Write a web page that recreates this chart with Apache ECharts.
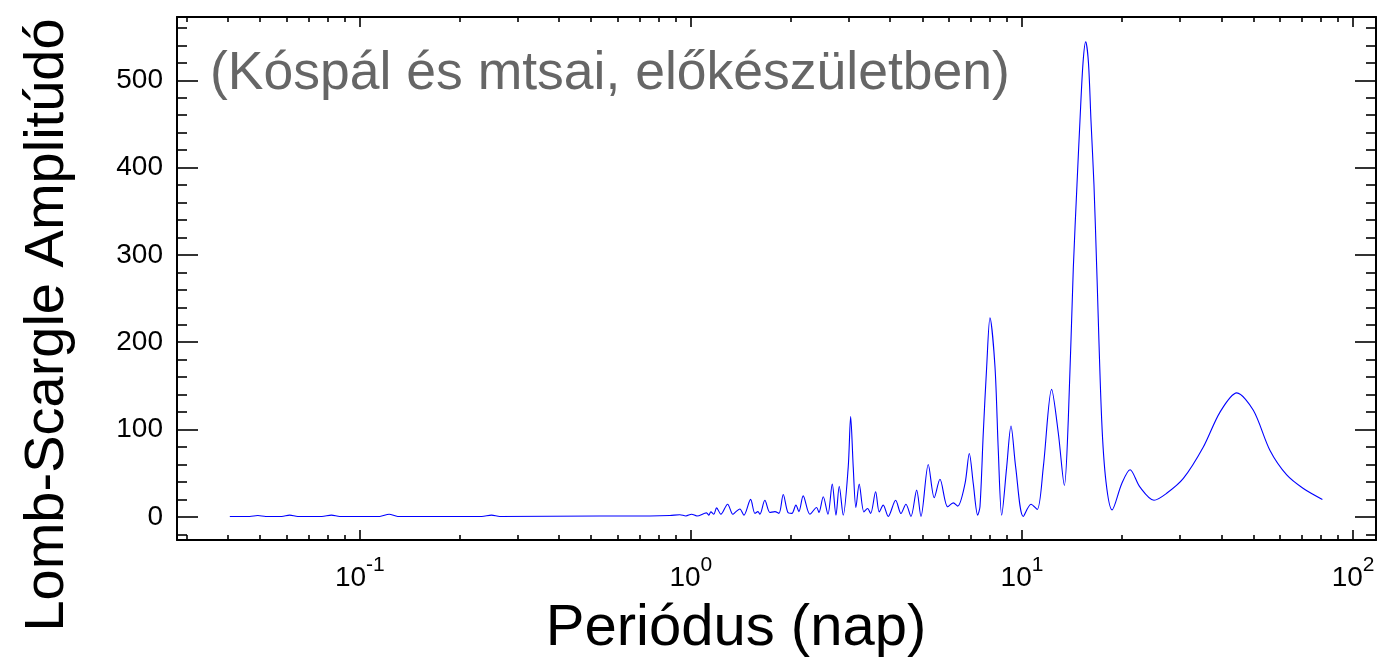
<!DOCTYPE html>
<html>
<head>
<meta charset="utf-8">
<script src="https://cdn.jsdelivr.net/npm/echarts@6/dist/echarts.min.js"></script>
<style>
html,body{margin:0;padding:0;background:#fff;}
#chart{width:1384px;height:662px;}
</style>
</head>
<body>
<div id="chart"></div>
<script>
// Period in days
const periods = [
  0.0405, 0.0465, 0.0492, 0.0520, 0.0581, 0.0614, 0.0650, 0.0768, 0.0821, 0.0870,
  0.1149, 0.1226, 0.1302, 0.2336, 0.2499, 0.2648, 0.531, 0.752, 0.864, 0.926,
  0.966, 1.005, 1.043, 1.115, 1.133, 1.149, 1.173, 1.196, 1.232, 1.291,
  1.339, 1.368, 1.406, 1.446, 1.515, 1.561, 1.594, 1.616, 1.673, 1.733,
  1.794, 1.845, 1.901, 1.964, 2.019, 2.076, 2.120, 2.184, 2.288, 2.398,
  2.437, 2.511, 2.594, 2.673, 2.743, 2.806, 2.885, 2.987, 3.038, 3.093,
  3.151, 3.224, 3.332, 3.419, 3.491, 3.614, 3.706, 3.810, 3.945, 4.154,
  4.310, 4.463, 4.621, 4.808, 4.954, 5.212, 5.433, 5.654, 5.965, 6.202,
  6.395, 6.729, 6.933, 7.128, 7.349, 7.467, 7.641, 7.824, 8.005, 8.289,
  8.482, 8.684, 8.991, 9.265, 9.572, 10.09, 10.65, 11.12, 11.60, 12.29,
  12.88, 13.43, 13.80, 14.29, 14.66, 14.97, 15.29, 15.58, 15.88, 16.16,
  16.50, 16.82, 17.41, 17.94, 18.71, 20.01, 21.20, 22.73, 25.05, 27.36,
  30.72, 35.30, 39.65, 44.54, 49.98, 56.13, 63.05, 70.77, 80.79
];
// Lomb-Scargle amplitude
const amplitudes = [
  0.5, 0.5, 1.5, 0.5, 0.5, 2, 0.5, 0.5, 2, 0.5,
  0.5, 3, 0.5, 0.5, 2, 0.5, 1, 1, 1.5, 2.5,
  1, 3, 1, 4.6, 2, 5.7, 3, 10.3, 3, 14.5,
  3, 6, 9, 2, 20, 4, 6, 3, 19, 5,
  6, 4, 25.6, 5, 4, 13.4, 6, 24, 3, 10.7,
  5, 23, 3, 37.5, 2, 35, 2, 57, 115, 57,
  10.7, 37.5, 5.7, 9.6, 3.9, 28.7, 5.7, 13.4, 0.5, 19,
  3.9, 14.5, 0.5, 30.6, 0.5, 60, 22, 43, 11.5, 16,
  12.3, 38, 72.6, 38, 2, 11.5, 96, 172, 228, 172,
  76, 2, 57, 104, 57, 0.5, 14.5, 8.5, 57, 146,
  95.5, 36, 110.8, 284.5, 380, 454, 520, 544, 520, 454,
  380, 284.5, 110.8, 40, 8, 38, 54, 34, 19, 27,
  44, 80, 120, 142, 122, 76, 48, 32.5, 20
];

// Axis ranges and ticks
const periodMin = 0.02805, periodMax = 117.3;
const ampMin = -26.5, ampMax = 572.5;
const xMajorExponents = [-1, 0, 1, 2];
const xMinorMantissas = [2, 3, 4, 5, 6, 7, 8, 9];
const xMinorDecades = [-2, -1, 0, 1];
const yMajorTicks = [0, 100, 200, 300, 400, 500];
const yMinorTicks = [-20, 20, 40, 60, 80, 120, 140, 160, 180, 220, 240, 260, 280,
  320, 340, 360, 380, 420, 440, 460, 480, 520, 540, 560];

const xMin = Math.log10(periodMin), xMax = Math.log10(periodMax);
const xMinorTicks = [];
xMinorDecades.forEach(d => xMinorMantissas.forEach(m => {
  const v = Math.log10(m) + d;
  if (v > xMin && v < xMax) xMinorTicks.push(v);
}));

const FONT = '"Liberation Sans", Arial, Helvetica, sans-serif';

function xAxisDef(pos, ticks, len, showLine, showLabel) {
  return {
    type: 'value', position: pos, min: xMin, max: xMax,
    splitLine: {show: false},
    axisLine: {show: showLine, onZero: false, lineStyle: {color: '#000', width: 2}},
    axisTick: {show: true, inside: true, length: len, customValues: ticks,
      lineStyle: {color: '#000', width: 1.6}},
    axisLabel: {
      show: showLabel, customValues: xMajorExponents, margin: 15,
      fontFamily: FONT, color: '#000',
      formatter: v => '{b|10}{s|' + Math.round(v) + '}',
      rich: {
        b: {fontSize: 28, fontFamily: FONT, color: '#000', lineHeight: 37, verticalAlign: 'bottom'},
        s: {fontSize: 21, fontFamily: FONT, color: '#000', lineHeight: 21, verticalAlign: 'top'}
      }
    }
  };
}
function yAxisDef(pos, ticks, len, showLine, showLabel) {
  return {
    type: 'value', position: pos, min: ampMin, max: ampMax,
    splitLine: {show: false},
    axisLine: {show: showLine, onZero: false, lineStyle: {color: '#000', width: 2}},
    axisTick: {show: true, inside: true, length: len, customValues: ticks,
      lineStyle: {color: '#000', width: 1.6}},
    axisLabel: {show: showLabel, customValues: yMajorTicks, margin: 14,
      fontSize: 28, fontFamily: FONT, color: '#000'}
  };
}

const chart = echarts.init(document.getElementById('chart'), null, {renderer: 'canvas'});
chart.setOption({
  animation: false,
  backgroundColor: '#fff',
  grid: {left: 177, right: 8, top: 17, bottom: 122, containLabel: false},
  xAxis: [
    xAxisDef('bottom', xMajorExponents, 10, true, true),
    xAxisDef('bottom', xMinorTicks, 5, false, false),
    xAxisDef('top', xMajorExponents, 10, true, false),
    xAxisDef('top', xMinorTicks, 5, false, false)
  ],
  yAxis: [
    yAxisDef('left', yMajorTicks, 21, true, true),
    yAxisDef('left', yMinorTicks, 10, false, false),
    yAxisDef('right', yMajorTicks, 21, true, false),
    yAxisDef('right', yMinorTicks, 10, false, false)
  ],
  series: [{
    type: 'line',
    xAxisIndex: 0, yAxisIndex: 0,
    data: periods.map((p, i) => [Math.log10(p), amplitudes[i]]),
    showSymbol: false,
    smooth: 0.3,
    lineStyle: {color: '#0000ff', width: 1.1},
    clip: true
  }],
  graphic: [
    {type: 'text', left: 210, top: 47,
      style: {text: '(Kóspál és mtsai, előkészületben)', fontSize: 53.5, fontFamily: FONT, fill: '#666666'}},
    {type: 'text', x: 736, y: 629,
      style: {text: 'Periódus (nap)', fontSize: 58, fontFamily: FONT, fill: '#000',
        align: 'center', verticalAlign: 'middle'}},
    {type: 'text', x: 48, y: 325, rotation: Math.PI / 2,
      style: {text: 'Lomb-Scargle Amplitúdó', fontSize: 56, fontFamily: FONT, fill: '#000',
        align: 'center', verticalAlign: 'middle'}}
  ]
});
</script>
</body>
</html>
